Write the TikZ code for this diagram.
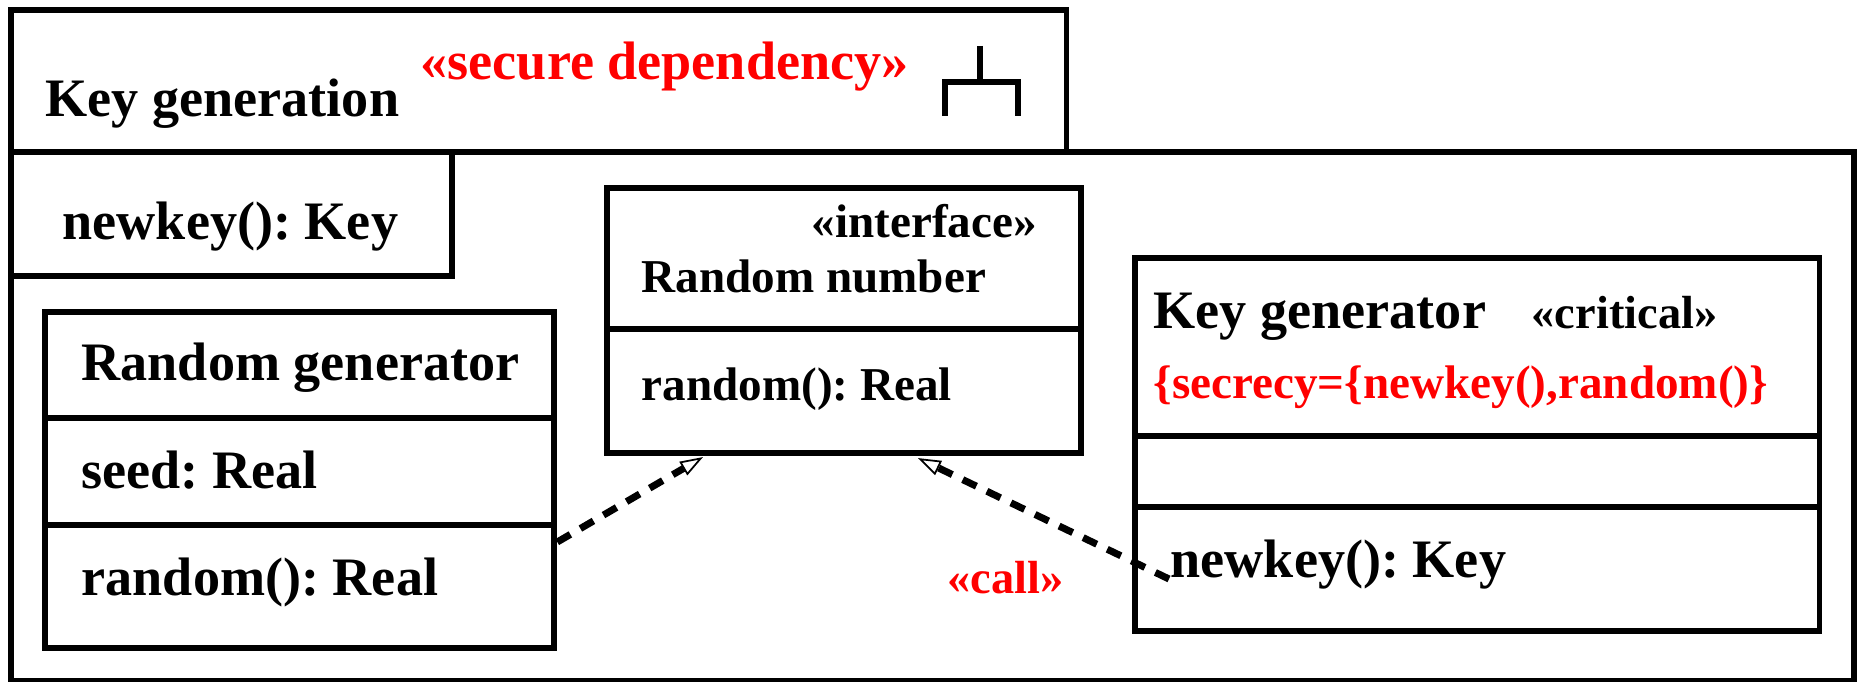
\documentclass[tikz,border=0pt]{standalone}
\usepackage{fontspec}
\setmainfont{Liberation Serif}
\usetikzlibrary{arrows.meta,calc}
\definecolor{umlred}{RGB}{255,0,0}
\frenchspacing
\begin{document}
\frenchspacing
\begin{tikzpicture}[x=0.01cm,y=-0.01cm,
  box/.style={draw, line width=1.6pt, inner sep=0pt, outer sep=0pt, anchor=north west},
  big/.style={inner sep=0pt, anchor=base west, font=\bfseries\fontsize{15.4}{18}\selectfont},
  small/.style={inner sep=0pt, anchor=base west, font=\bfseries\fontsize{13.4}{16}\selectfont},
  redtxt/.style={text=umlred},
  dep/.style={line width=2pt, dash pattern=on 4.3pt off 3.3pt, -{Triangle[open,length=6.5pt,width=4.4pt,line width=0.5pt]}},
  icon/.style={line width=1.6pt}
]
\useasboundingbox (0,0) rectangle (1857,682);
% package body and tab
\node[box, minimum width=184.2mm, minimum height=52.9mm] (body) at (11,152) {};
\node[box, minimum width=105.5mm, minimum height=14.2mm] (tab) at (11,10) {};
\node[box, minimum width=44.1mm, minimum height=12.4mm] (nk) at (11,152) {};
\node[big] (tabname) at (45,117) {Key generation};
\node[big, redtxt] (secdep) at (420,80) {«secure dependency»};
\node[big] (nktxt) at (62,240) {newkey(): Key};
% fork icon
\coordinate (f0) at (980,46);
\coordinate (f1) at (980,82);
\draw[icon] (f0) -- (f1);
\draw[icon] (945,116) -- (945,82) -- (1018,82) -- (1018,116);
% interface
\node[box, minimum width=47.4mm, minimum height=14.1mm] (ifc1) at (607,188) {};
\node[box, minimum width=47.4mm, minimum height=12.4mm] (ifc2) at (607,329) {};
\node[small] (ifcst) at (811,238) {«interface»};
\node[small] (ifcname) at (641,293) {Random number};
\node[small] (ifcop) at (641,400) {random(): Real};
% random generator
\node[box, minimum width=50.9mm, minimum height=10.6mm] (rg1) at (45,312) {};
\node[box, minimum width=50.9mm, minimum height=10.7mm] (rg2) at (45,418) {};
\node[box, minimum width=50.9mm, minimum height=12.3mm] (rg3) at (45,525) {};
\node[big] (rgname) at (81,380) {Random generator};
\node[big] (rgatt) at (81,488) {seed: Real};
\node[big] (rgop) at (81,595) {random(): Real};
% key generator
\node[box, minimum width=68.4mm, minimum height=17.8mm] (kg1) at (1135,258) {};
\node[box, minimum width=68.4mm, minimum height=7.1mm] (kg2) at (1135,436) {};
\node[box, minimum width=68.4mm, minimum height=12.4mm] (kg3) at (1135,507) {};
\node[big] (kgname) at (1153,329) {Key generator};
\node[font=\bfseries\fontsize{13.2}{16}\selectfont, inner sep=0pt, anchor=base west] (kgst) at (1531,329) {«critical»};
\node[small, redtxt] (kgtag) at (1153,399) {\{secrecy=\{newkey(),random()\}};
\node[big] (kgop) at (1170,577) {newkey(): Key};
% dependencies
\draw[dep] ($(rg3.north east)+(3,17)$) -- ($(ifc2.south west)+(96,4)$);
\draw[dep] ($(kgop.base west)+(-1,2)$) -- ($(ifc2.south west)+(311,5)$);
\node[font=\bfseries\fontsize{13.2}{16}\selectfont, inner sep=0pt, anchor=base west, redtxt] (call) at (947,593) {«call»};
\end{tikzpicture}
\end{document}
